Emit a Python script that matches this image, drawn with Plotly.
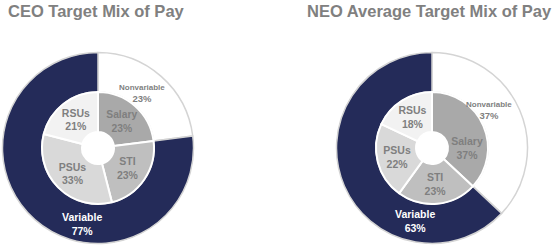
import plotly.graph_objects as go

# ---- data ----
titles = ["CEO Target Mix of Pay", "NEO Average Target Mix of Pay"]
outer_labels = ["Nonvariable", "Variable"]
ceo_outer = [23, 77]
neo_outer = [37, 63]
inner_labels = ["Salary", "STI", "PSUs", "RSUs"]
ceo_inner = [23, 23, 33, 21]
neo_inner = [37, 23, 22, 18]

W, H = 554, 245
FONT = "Arial, Liberation Sans, sans-serif"
NAVY = "#242b59"
outer_colors = ["#ffffff", NAVY]
inner_colors = ["#a9a9a9", "#bfbfbf", "#d9d9d9", "#f2f2f2"]


def px_dom(cx, cy, r):
    return dict(x=[(cx - r) / W, (cx + r) / W],
                y=[(H - cy - r) / H, (H - cy + r) / H])


fig = go.Figure()
charts = [
    (ceo_outer, ceo_inner, 98, 148),
    (neo_outer, neo_inner, 432, 148),
]
R_OUT, R_IN, R_HOLE = 95.5, 56, 16
for outer, inner, cx, cy in charts:
    fig.add_trace(go.Pie(
        labels=outer_labels, values=outer, sort=False, direction="clockwise",
        rotation=0, hole=R_IN / R_OUT, domain=px_dom(cx, cy, R_OUT),
        marker=dict(colors=outer_colors, line=dict(color="#d4d4d4", width=1.5)),
        textinfo="none", hoverinfo="label+percent", showlegend=False,
    ))
    fig.add_trace(go.Pie(
        labels=inner_labels, values=inner, sort=False, direction="clockwise",
        rotation=0, hole=R_HOLE / R_IN, domain=px_dom(cx, cy, R_IN),
        marker=dict(colors=inner_colors, line=dict(color="#ffffff", width=2)),
        texttemplate="<b>%{label}<br>%{value}%</b>", textposition="inside",
        insidetextorientation="horizontal",
        textfont=dict(family=FONT, size=10.5, color="#7f7f7f"),
        hoverinfo="label+percent", showlegend=False,
    ))

annotations = []
# titles
for t, cx in zip(titles, [96, 429]):
    annotations.append(dict(
        text=f"<b>{t}</b>", x=cx / W, y=(H - 11) / H, xref="paper", yref="paper",
        xanchor="center", yanchor="middle", showarrow=False,
        font=dict(family=FONT, size=16.5, color="#808080")))

# outer ring labels (pixel anchor positions)
outer_pos = [
    [(142, 93), (82, 224)],
    [(489, 110), (415, 221)],
]
for outer, pos in zip([ceo_outer, neo_outer], outer_pos):
    for i, (lab, val) in enumerate(zip(outer_labels, outer)):
        x, y = pos[i]
        if i == 0:
            f = dict(family=FONT, size=9.5, color="#7f7f7f")
            txt = f"<b><span style='font-size:8px'>{lab}</span><br>{val}%</b>"
        else:
            f = dict(family=FONT, size=10.5, color="#ffffff")
            txt = f"<b>{lab}<br>{val}%</b>"
        annotations.append(dict(
            text=txt, x=x / W, y=(H - y) / H,
            xref="paper", yref="paper", xanchor="center", yanchor="middle",
            showarrow=False, font=f))

fig.update_layout(
    width=W, height=H, margin=dict(l=0, r=0, t=0, b=0),
    paper_bgcolor="white", plot_bgcolor="white",
    annotations=annotations,
)
fig.write_html("out.html")
